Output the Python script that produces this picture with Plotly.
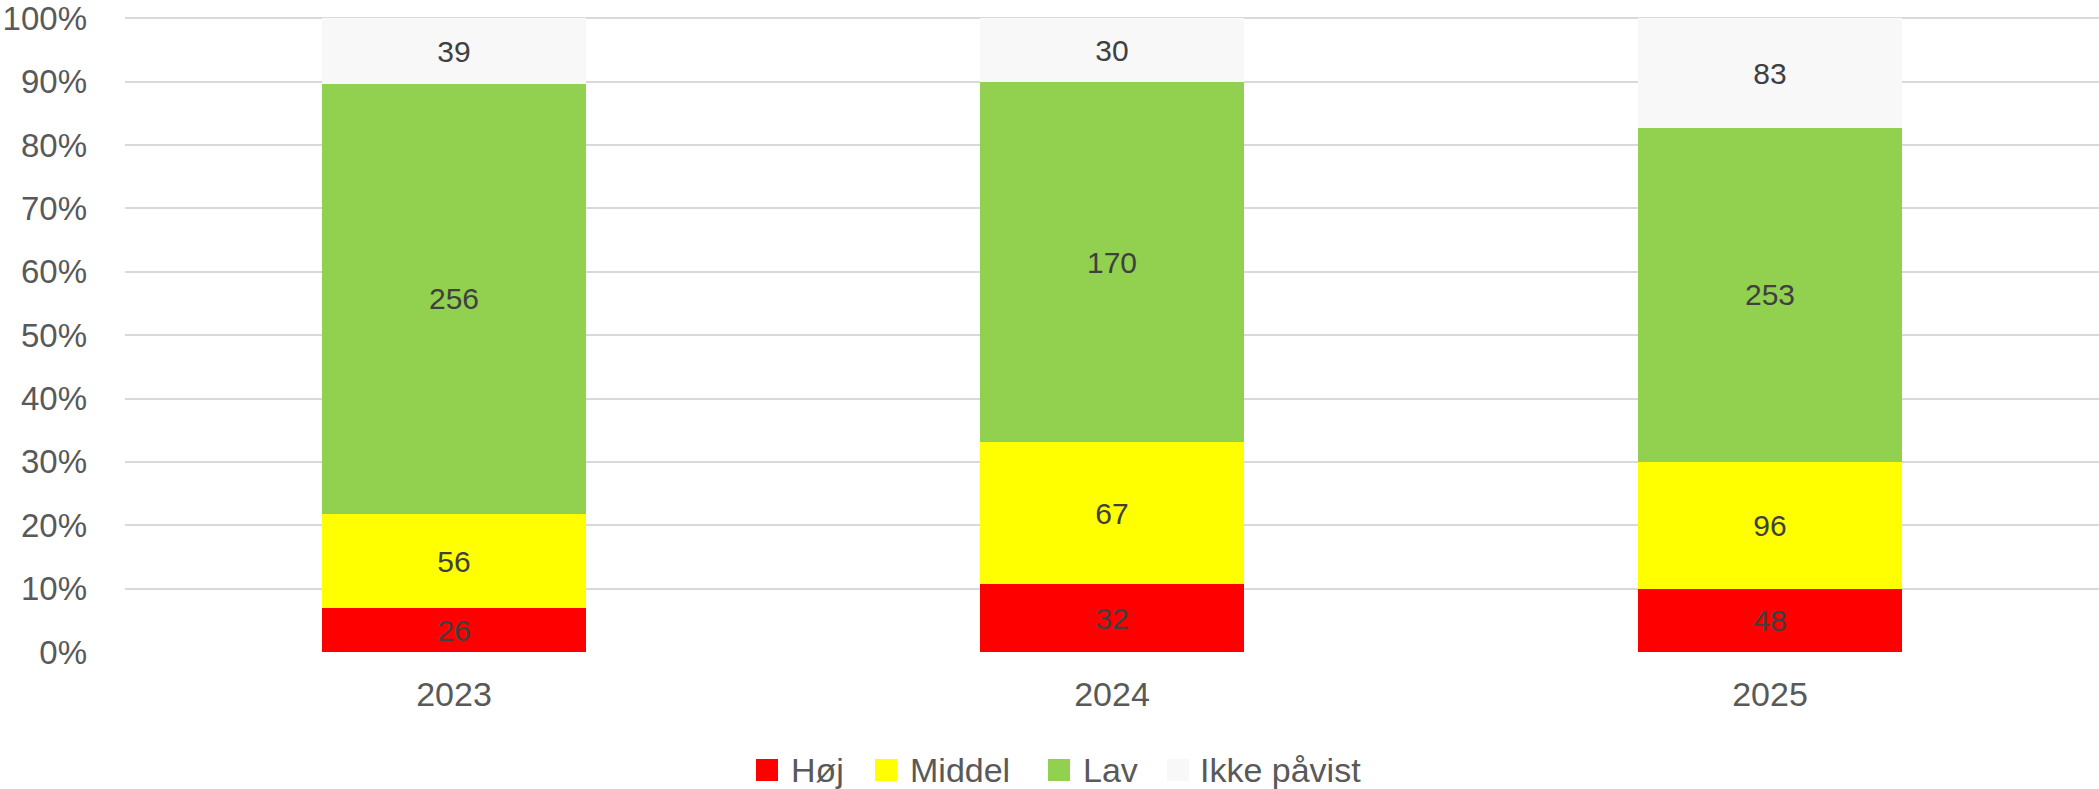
import plotly.graph_objects as go

years = ["2023", "2024", "2025"]
series_names = ["Høj", "Middel", "Lav", "Ikke påvist"]
hoj = [26, 32, 48]
middel = [56, 67, 96]
lav = [256, 170, 253]
ikke_pavist = [39, 30, 83]
series_values = [hoj, middel, lav, ikke_pavist]
colors = ["#FF0000", "#FFFF00", "#92D050", "#F8F8F8"]
y_ticks = list(range(0, 101, 10))
y_tick_labels = [f"{v}%" for v in y_ticks]

W, H = 2099, 789
PLOT_L, PLOT_T, PLOT_B = 125, 17, 652
ML, MR, MT, MB = PLOT_L, 0, PLOT_T, H - PLOT_B
PW, PH = W - ML - MR, H - MT - MB
CAT_STEP = 658.0  # pixel spacing between categories in the reference
x_hi = -0.5 + PW / CAT_STEP

FONT = "Liberation Sans, Arial, sans-serif"

fig = go.Figure()
for name, vals, col in zip(series_names, series_values, colors):
    fig.add_trace(go.Bar(
        x=years, y=vals, name=name,
        marker=dict(color=col, line=dict(width=0)),
        text=[str(v) for v in vals],
        textposition="inside",
        insidetextanchor="middle",
        textangle=0,
        textfont=dict(size=30, color="#404040", family=FONT),
        showlegend=False,
    ))

# manual legend (reference pixels converted to paper coords)
sq_x0 = [756, 875, 1048, 1167]
txt_x = [789, 908, 1081, 1198]
sq_size = 22
leg_cy = 770
def px_x(p): return (p - ML) / PW
def px_y(p): return (PLOT_B - p) / PH
shapes = []
annotations = []
for name, col, sx, tx in zip(series_names, colors, sq_x0, txt_x):
    shapes.append(dict(type="rect", xref="paper", yref="paper",
                       x0=px_x(sx), x1=px_x(sx + sq_size),
                       y0=px_y(leg_cy + sq_size / 2), y1=px_y(leg_cy - sq_size / 2),
                       fillcolor=col, line=dict(width=0)))
    annotations.append(dict(xref="paper", yref="paper", x=px_x(tx), y=px_y(leg_cy),
                            xanchor="left", yanchor="middle", text=name, showarrow=False,
                            font=dict(size=34, color="#595959", family=FONT)))

fig.update_layout(
    width=W, height=H,
    margin=dict(l=ML, r=MR, t=MT, b=MB, pad=0, autoexpand=False),
    barmode="stack", barnorm="percent", bargap=0.6,
    plot_bgcolor="white", paper_bgcolor="white",
    showlegend=False,
    uniformtext=dict(mode="show", minsize=30),
    font=dict(family=FONT, color="#595959"),
    shapes=shapes, annotations=annotations,
    xaxis=dict(range=[-0.5, x_hi], showgrid=False, zeroline=False, showline=False,
               automargin=False,
               tickfont=dict(size=34, color="#595959"), ticks="", ticklabelstandoff=19),
    yaxis=dict(range=[0, 100.2], tickvals=y_ticks, ticktext=y_tick_labels,
               showgrid=True, gridcolor="#D9D9D9", gridwidth=2, zeroline=False,
               showline=False, ticks="", ticklabelstandoff=37, automargin=False,
               ticklabeloverflow="allow",
               tickfont=dict(size=33, color="#595959")),
)
fig.write_html("out.html",
               config={"displayModeBar": False},
               post_script="document.body.style.margin='0';document.body.style.overflow='hidden';")
